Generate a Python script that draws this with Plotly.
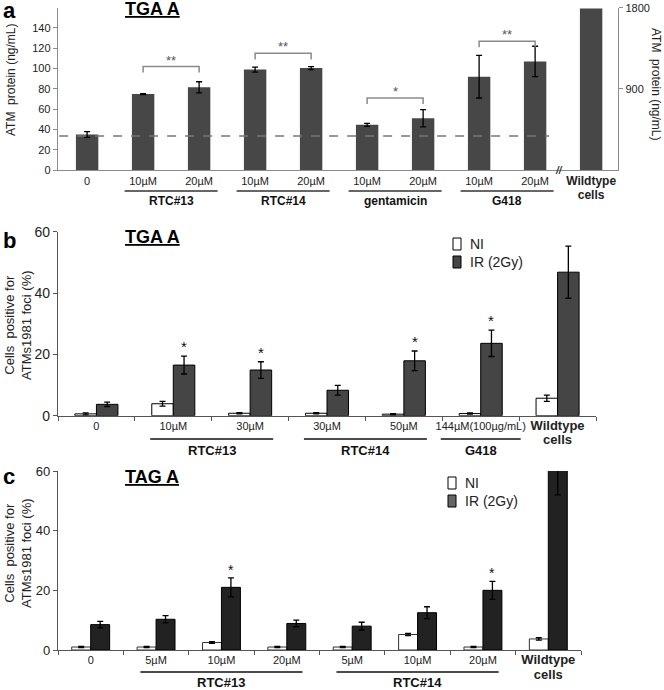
import plotly.graph_objects as go

FONT = "Liberation Sans, Arial, sans-serif"
W, H = 664, 690

# ---------------- data ----------------
# Panel a: ATM protein (ng/mL), TGA A
a_labels = ["0", "10µM", "20µM", "10µM", "20µM", "10µM", "20µM", "10µM", "20µM"]
a_values = [35, 74.8, 81.5, 99, 100.5, 44.5, 51, 92, 107]
a_errors = [2.8, 0.5, 5.5, 2.5, 1.5, 1.5, 8.5, 21, 15]
a_wt_label = "Wildtype cells"
a_wt_value = 1790
a_groups = ["RTC#13", "RTC#14", "gentamicin", "G418"]
a_group_members = [[1, 2], [3, 4], [5, 6], [7, 8]]
a_baseline = 33.5
a_sig_pairs = [[1, 2], [3, 4], [5, 6], [7, 8]]
a_sig_levels = [102, 115, 71, 127]
a_sig_marks = ["**", "**", "*", "**"]

# Panel b: cells positive for ATMs1981 foci (%), TGA A
b_labels = ["0", "10µM", "30µM", "30µM", "50µM", "144µM(100µg/mL)", "Wildtype cells"]
b_ni = [0.6, 3.9, 0.8, 0.8, 0.5, 0.7, 5.7]
b_ni_err = [0.3, 0.8, 0.2, 0.2, 0.2, 0.2, 1.0]
b_ir = [3.7, 16.5, 14.9, 8.3, 17.9, 23.6, 46.8]
b_ir_err = [0.7, 2.9, 2.7, 1.6, 3.2, 4.3, 8.5]
b_star = [0, 1, 1, 0, 1, 1, 0]
b_groups = ["RTC#13", "RTC#14", "G418"]
b_group_members = [[1, 2], [3, 4], [5]]

# Panel c: cells positive for ATMs1981 foci (%), TAG A
c_labels = ["0", "5µM", "10µM", "20µM", "5µM", "10µM", "20µM", "Wildtype cells"]
c_ni = [1.0, 1.0, 2.5, 1.0, 1.0, 5.2, 1.0, 3.7]
c_ni_err = [0.2, 0.2, 0.3, 0.2, 0.2, 0.4, 0.2, 0.4]
c_ir = [8.5, 10.3, 21.0, 8.9, 8.0, 12.5, 20.0, 62]
c_ir_err = [1.1, 1.2, 3.2, 1.1, 1.3, 2.0, 3.0, 10]
c_star = [0, 0, 1, 0, 0, 0, 1, 0]
c_groups = ["RTC#13", "RTC#14"]
c_group_members = [[1, 2, 3], [4, 5, 6]]

series_names = ["NI", "IR (2Gy)"]


def px(x):
    return x / W


def py(y):
    return 1 - y / H


def tick_text(label, size):
    if label.startswith("Wildtype"):
        return "<span style='font-size:%dpx'><b>Wildtype<br>cells</b></span>" % size
    return label


def note(x, y, text, size, color="#222", angle=0, xanchor="center", yanchor="middle"):
    return dict(x=x, y=y, xref="paper", yref="paper", text=text, showarrow=False,
                textangle=angle, xanchor=xanchor, yanchor=yanchor,
                font=dict(size=size, color=color, family=FONT))


fig = go.Figure()

# ---------------- panel a ----------------
a_all = a_labels + [a_wt_label]
fig.add_trace(go.Bar(
    x=list(range(len(a_labels))), y=a_values,
    error_y=dict(type="data", array=a_errors, color="black", thickness=1.3, width=3),
    marker=dict(color="#474747", line=dict(width=0)),
    width=0.4, xaxis="x", yaxis="y", showlegend=False))
fig.add_trace(go.Bar(
    x=[len(a_labels)], y=[a_wt_value],
    marker=dict(color="#474747", line=dict(width=0)),
    width=0.4, xaxis="x", yaxis="y2", showlegend=False))

# ---------------- panel b ----------------
bw = 0.28
fig.add_trace(go.Bar(
    x=list(range(len(b_labels))), y=b_ni, name=series_names[0],
    error_y=dict(type="data", array=b_ni_err, color="black", thickness=1.3, width=3),
    marker=dict(color="white", line=dict(color="black", width=1)),
    width=bw, offset=-bw, xaxis="x2", yaxis="y3", showlegend=False))
fig.add_trace(go.Bar(
    x=list(range(len(b_labels))), y=b_ir, name=series_names[1],
    error_y=dict(type="data", array=b_ir_err, color="black", thickness=1.3, width=3),
    marker=dict(color="#454545", line=dict(color="black", width=1)),
    width=bw, offset=0, xaxis="x2", yaxis="y3", showlegend=False))

# ---------------- panel c ----------------
cw = 0.29
fig.add_trace(go.Bar(
    x=list(range(len(c_labels))), y=c_ni, name=series_names[0],
    error_y=dict(type="data", array=c_ni_err, color="black", thickness=1.3, width=3),
    marker=dict(color="white", line=dict(color="#333", width=1)),
    width=cw, offset=-cw, xaxis="x3", yaxis="y4", showlegend=False))
fig.add_trace(go.Bar(
    x=list(range(len(c_labels))), y=c_ir, name=series_names[1],
    error_y=dict(type="data", array=c_ir_err, color="black", thickness=1.3, width=3),
    marker=dict(color="#222222", line=dict(color="black", width=1)),
    width=cw, offset=0, xaxis="x3", yaxis="y4", showlegend=False))

shapes = []
annotations = []

# panel a decorations
shapes.append(dict(type="line", xref="x", yref="y", x0=-0.5, x1=8.25,
                   y0=a_baseline, y1=a_baseline,
                   line=dict(color="#777", width=1.4, dash="dash")))
for (i0, i1), lev, mark in zip(a_sig_pairs, a_sig_levels, a_sig_marks):
    shapes.append(dict(type="path", xref="x", yref="y",
                       path="M %g,%g L %g,%g L %g,%g L %g,%g" % (i0, lev - 6, i0, lev, i1, lev, i1, lev - 6),
                       line=dict(color="#8a8a8a", width=1.5)))
    annotations.append(dict(x=(i0 + i1) / 2, y=lev, xref="x", yref="y", text=mark,
                            showarrow=False, xanchor="center", yanchor="bottom", yshift=-3,
                            font=dict(size=13, color="#555", family=FONT)))
for name, members in zip(a_groups, a_group_members):
    c = sum(members) / len(members)
    shapes.append(dict(type="line", xref="x", yref="paper", x0=c - 0.83, x1=c + 0.83,
                       y0=py(191), y1=py(191), line=dict(color="#333", width=1.5)))
    annotations.append(dict(x=c, y=py(201), xref="x", yref="paper", text="<b>%s</b>" % name,
                            showarrow=False, xanchor="center", yanchor="middle",
                            font=dict(size=12, color="#111", family=FONT)))
annotations.append(dict(x=len(a_labels) - 0.58, y=0, xref="x", yref="y", text="<b><i>//</i></b>",
                        showarrow=False, xanchor="center", yanchor="middle",
                        font=dict(size=10, color="#333", family=FONT)))

# panel b decorations
for i, s in enumerate(b_star):
    if s:
        annotations.append(dict(x=i + bw / 2, y=b_ir[i] + b_ir_err[i], xref="x2", yref="y3",
                                text="*", showarrow=False, xanchor="center", yanchor="bottom",
                                yshift=-1, font=dict(size=15, color="#111", family=FONT)))
for name, members in zip(b_groups, b_group_members):
    c = sum(members) / len(members)
    half = 0.8 if len(members) > 1 else 0.52
    shapes.append(dict(type="line", xref="x2", yref="paper", x0=c - half, x1=c + half,
                       y0=py(439), y1=py(439), line=dict(color="#111", width=1.5)))
    annotations.append(dict(x=c, y=py(450), xref="x2", yref="paper", text="<b>%s</b>" % name,
                            showarrow=False, xanchor="center", yanchor="middle",
                            font=dict(size=13, color="#111", family=FONT)))

# panel c decorations
for i, s in enumerate(c_star):
    if s:
        annotations.append(dict(x=i + cw / 2, y=c_ir[i] + c_ir_err[i], xref="x3", yref="y4",
                                text="*", showarrow=False, xanchor="center", yanchor="bottom",
                                yshift=-2, font=dict(size=14, color="#111", family=FONT)))
for name, members in zip(c_groups, c_group_members):
    c = sum(members) / len(members)
    shapes.append(dict(type="line", xref="x3", yref="paper", x0=c - 1.24, x1=c + 1.24,
                       y0=py(672), y1=py(672), line=dict(color="#111", width=1.5)))
    annotations.append(dict(x=c, y=py(682), xref="x3", yref="paper", text="<b>%s</b>" % name,
                            showarrow=False, xanchor="center", yanchor="middle",
                            font=dict(size=13, color="#111", family=FONT)))

# manual legends (b and c)
for (lx, ly, ir_col) in [(453, 244, "#454545"), (448, 483, "#666666")]:
    for k, (name, col) in enumerate(zip(series_names, ["white", ir_col])):
        yc = ly + k * 18
        shapes.append(dict(type="rect", xref="paper", yref="paper",
                           x0=px(lx), x1=px(lx + 8), y0=py(yc + 6), y1=py(yc - 6),
                           fillcolor=col, line=dict(color="black", width=1)))
        annotations.append(note(px(lx + 15), py(yc), name, 14, xanchor="left"))

# panel letters, titles, axis titles
for letter, yy in [("a", 11), ("b", 240), ("c", 476)]:
    annotations.append(note(px(1), py(yy), "<b>%s</b>" % letter, 22, color="black", xanchor="left"))
for title, yy in [("TGA A", 9), ("TGA A", 237), ("TAG A", 477)]:
    annotations.append(note(px(152), py(yy), "<b><u>%s</u></b>" % title, 18, color="black"))
annotations.append(note(px(11), py(80), "ATM  protein (ng/mL)", 12, angle=-90))
annotations.append(note(px(656), py(84), "ATM  protein (ng/mL)", 12, angle=90))
for yy in [325, 553]:
    annotations.append(note(px(18), py(yy), "Cells  positive for<br>ATMs1981 foci (%)", 13, angle=-90))

axis_common = dict(showgrid=False, zeroline=False, fixedrange=True, automargin=False)

fig.update_layout(
    template="none",
    width=W, height=H, margin=dict(l=0, r=0, t=0, b=0, pad=0),
    paper_bgcolor="white", plot_bgcolor="white",
    barmode="overlay", showlegend=False, hovermode=False,
    font=dict(family=FONT, color="#222"),
    shapes=shapes, annotations=annotations,
    xaxis=dict(domain=[px(58), px(618)], anchor="y", range=[-0.52, 9.48],
               tickmode="array", tickvals=list(range(len(a_all))),
               ticktext=[tick_text(l, 12) for l in a_all], ticks="", tickangle=0,
               showline=True, linecolor="#8c8c8c", linewidth=1.3,
               tickfont=dict(size=11, color="#222"), **axis_common),
    yaxis=dict(domain=[py(170), py(7.7)], anchor="x", range=[0, 160],
               tickmode="array", tickvals=[0, 20, 40, 60, 80, 100, 120, 140],
               ticks="outside", ticklen=4, tickcolor="#8c8c8c",
               showline=True, linecolor="#8c8c8c", linewidth=1.3,
               tickfont=dict(size=11, color="#222"), **axis_common),
    yaxis2=dict(overlaying="y", side="right", anchor="x", range=[0, 1800],
                tickmode="array", tickvals=[900, 1800],
                ticks="outside", ticklen=4, tickcolor="#8c8c8c",
                showline=True, linecolor="#8c8c8c", linewidth=1.3,
                tickfont=dict(size=11, color="#222"), **axis_common),
    xaxis2=dict(domain=[px(58), px(596)], anchor="y3", range=[-0.5, len(b_labels) - 0.5],
                tickmode="array", tickvals=list(range(len(b_labels))),
                ticktext=[tick_text(l, 13) for l in b_labels], ticks="", tickangle=0,
                minor=dict(tickmode="array", tickvals=[i - 0.5 for i in range(len(b_labels) + 1)],
                           ticks="outside", ticklen=4, tickcolor="#555", showgrid=False),
                showline=True, linecolor="#555", linewidth=1.2,
                tickfont=dict(size=11, color="#222"), **axis_common),
    yaxis3=dict(domain=[py(415.7), py(231.7)], anchor="x2", range=[0, 60],
                tickmode="array", tickvals=[0, 20, 40, 60],
                ticks="outside", ticklen=4, tickcolor="#555",
                showline=True, linecolor="#555", linewidth=1.2,
                tickfont=dict(size=14, color="#222"), **axis_common),
    xaxis3=dict(domain=[px(58), px(581)], anchor="y4", range=[-0.5, len(c_labels) - 0.5],
                tickmode="array", tickvals=list(range(len(c_labels))),
                ticktext=[tick_text(l, 13) for l in c_labels], ticks="", tickangle=0,
                minor=dict(tickmode="array", tickvals=[i - 0.5 for i in range(len(c_labels) + 1)],
                           ticks="outside", ticklen=4, tickcolor="#555", showgrid=False),
                showline=True, linecolor="#555", linewidth=1.2,
                tickfont=dict(size=11, color="#222"), **axis_common),
    yaxis4=dict(domain=[py(650), py(471)], anchor="x3", range=[0, 60],
                tickmode="array", tickvals=[0, 20, 40, 60],
                ticks="outside", ticklen=4, tickcolor="#555",
                showline=True, linecolor="#555", linewidth=1.2,
                tickfont=dict(size=13, color="#222"), **axis_common),
)

fig.write_html("out.html", config={"displayModeBar": False, "staticPlot": True},
               post_script="document.body.style.margin='0';")
